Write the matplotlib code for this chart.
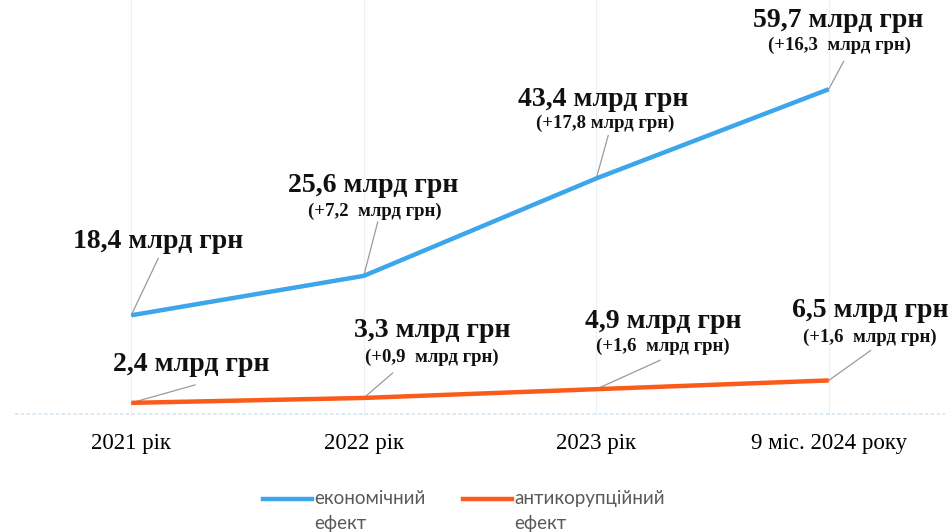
import matplotlib
matplotlib.use("Agg")
import matplotlib.pyplot as plt
from matplotlib.lines import Line2D

categories = ["2021 рік", "2022 рік", "2023 рік", "9 міс. 2024 року"]
econ = [18.4, 25.6, 43.4, 59.7]
anti = [2.4, 3.3, 4.9, 6.5]
econ_labels = ["18,4 млрд грн", "25,6 млрд грн", "43,4 млрд грн", "59,7 млрд грн"]
econ_sub = ["", "(+7,2  млрд грн)", "(+17,8 млрд грн)", "(+16,3  млрд грн)"]
anti_labels = ["2,4 млрд грн", "3,3 млрд грн", "4,9 млрд грн", "6,5 млрд грн"]
anti_sub = ["", "(+0,9  млрд грн)", "(+1,6  млрд грн)", "(+1,6  млрд грн)"]
legend_labels = ["економічний\nефект", "антикорупційний\nефект"]

BLUE = "#3DA5EA"
ORANGE = "#FA5A1A"
SERIF = ["Liberation Serif", "DejaVu Serif"]

W, H = 952, 532
fig = plt.figure(figsize=(W / 100, H / 100), dpi=100)
ax = fig.add_axes([15 / W, (H - 416) / H, 930 / W, 416 / H])
x = list(range(len(categories)))

ax.plot(x, econ, color=BLUE, lw=3.2, solid_capstyle="butt", zorder=3)
ax.plot(x, anti, color=ORANGE, lw=3.2, solid_capstyle="butt", zorder=3)
ax.set_xlim(-0.5, 3.5)
ax.set_ylim(0, 76)

for xi in x:
    ax.axvline(xi, color="#EAF2F8", lw=0.8, zorder=0)
ax.axhline(0.3, color="#D5E6F3", lw=1.2, ls=(0, (2, 1.5)), zorder=0)

for s in ax.spines.values():
    s.set_visible(False)
ax.set_yticks([])
ax.set_xticks(x)
ax.set_xticklabels(categories, fontfamily=SERIF, fontsize=16.5)
ax.tick_params(axis="x", length=0, pad=12)

# offsets in pixels: (line end dx, dy), (main text dx, dy), (sub text dx, dy)
px = 0.72
econ_off = [((27, 57), (27, 74), None),
            ((14, 54), (9, 90), (11, 65)),
            ((12, 43), (7, 79), (9, 55)),
            ((15, 28), (9, 69), (11, 44))]
anti_off = [((64, 18), (60, 38), None),
            ((29, 25), (68, 67), (68, 41)),
            ((64, 29), (67, 68), (67, 43)),
            ((42, 30), (41, 70), (41, 43))]

def label(series, labels, subs, offs):
    for i, (v, lab, sub, o) in enumerate(zip(series, labels, subs, offs)):
        (lx, ly), (tx, ty), so = o
        ax.annotate("", xy=(i, v), xytext=(lx * px, ly * px), textcoords="offset points",
                    arrowprops=dict(arrowstyle="-", color="#9A9A9A", lw=0.9,
                                    shrinkA=0, shrinkB=0), zorder=2)
        ax.annotate(lab, xy=(i, v), xytext=(tx * px, ty * px), textcoords="offset points",
                    ha="center", va="center", fontfamily=SERIF, fontweight="bold",
                    fontsize=20, color="#111111", annotation_clip=False)
        if sub:
            ax.annotate(sub, xy=(i, v), xytext=(so[0] * px, so[1] * px), textcoords="offset points",
                        ha="center", va="center", fontfamily=SERIF, fontweight="bold",
                        fontsize=13.5, color="#111111", annotation_clip=False)

label(econ, econ_labels, econ_sub, econ_off)
label(anti, anti_labels, anti_sub, anti_off)

# legend drawn manually so the handle aligns with the first text line
leg_items = [(BLUE, 263, legend_labels[0]), (ORANGE, 463, legend_labels[1])]
for color, x0, text in leg_items:
    y = (H - 499) / H
    fig.add_artist(Line2D([x0 / W, (x0 + 49) / W], [y, y], color=color, lw=3.2,
                          transform=fig.transFigure))
    fig.text((x0 + 51) / W, (H - 490) / H, text, ha="left", va="top",
             fontfamily="Lato", fontsize=13.5, color="#5A5A5A", linespacing=1.6)

fig.savefig("out.png", dpi=100, facecolor="white")
